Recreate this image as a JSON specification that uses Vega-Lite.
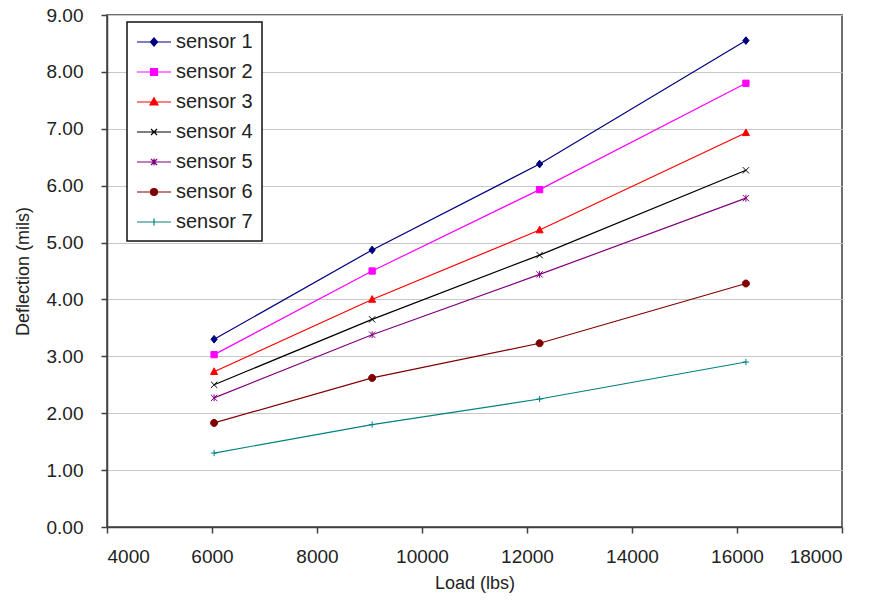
{
  "$schema": "https://vega.github.io/schema/vega-lite/v6.json",
  "autosize": {"type": "none"},
  "width": 735,
  "height": 512,
  "padding": {"left": 107, "top": 15, "right": 31, "bottom": 79},
  "background": "white",
  "config": {
    "font": "Liberation Sans",
    "view": {"stroke": "#404040", "strokeWidth": 1.5},
    "axis": {
      "domainColor": "#404040",
      "domainWidth": 1.5,
      "tickColor": "#404040",
      "tickWidth": 1.5,
      "tickSize": 6,
      "labelFont": "Liberation Sans",
      "labelFontSize": 19,
      "labelColor": "#222222",
      "titleFont": "Liberation Sans",
      "titleFontSize": 18,
      "titleFontWeight": "normal",
      "titleColor": "#222222",
      "gridColor": "#c8c8c8",
      "gridWidth": 1
    },
    "legend": {
      "strokeColor": "#111111",
      "strokeWidth": 1.5,
      "fillColor": "white",
      "padding": 9,
      "labelFont": "Liberation Sans",
      "labelFontSize": 20,
      "labelColor": "#222222"
    },
    "point": {"filled": true, "size": 49, "strokeWidth": 1, "opacity": 1}
  },
  "data": {
    "values": [
      {"sensor": "sensor 1", "load": 6040, "deflection": 3.30},
      {"sensor": "sensor 1", "load": 9050, "deflection": 4.87},
      {"sensor": "sensor 1", "load": 12240, "deflection": 6.38},
      {"sensor": "sensor 1", "load": 16170, "deflection": 8.55},
      {"sensor": "sensor 2", "load": 6040, "deflection": 3.03},
      {"sensor": "sensor 2", "load": 9050, "deflection": 4.50},
      {"sensor": "sensor 2", "load": 12240, "deflection": 5.93},
      {"sensor": "sensor 2", "load": 16170, "deflection": 7.80},
      {"sensor": "sensor 3", "load": 6040, "deflection": 2.73},
      {"sensor": "sensor 3", "load": 9050, "deflection": 4.00},
      {"sensor": "sensor 3", "load": 12240, "deflection": 5.22},
      {"sensor": "sensor 3", "load": 16170, "deflection": 6.93},
      {"sensor": "sensor 4", "load": 6040, "deflection": 2.50},
      {"sensor": "sensor 4", "load": 9050, "deflection": 3.65},
      {"sensor": "sensor 4", "load": 12240, "deflection": 4.78},
      {"sensor": "sensor 4", "load": 16170, "deflection": 6.27},
      {"sensor": "sensor 5", "load": 6040, "deflection": 2.27},
      {"sensor": "sensor 5", "load": 9050, "deflection": 3.38},
      {"sensor": "sensor 5", "load": 12240, "deflection": 4.44},
      {"sensor": "sensor 5", "load": 16170, "deflection": 5.78},
      {"sensor": "sensor 6", "load": 6040, "deflection": 1.83},
      {"sensor": "sensor 6", "load": 9050, "deflection": 2.62},
      {"sensor": "sensor 6", "load": 12240, "deflection": 3.23},
      {"sensor": "sensor 6", "load": 16170, "deflection": 4.28},
      {"sensor": "sensor 7", "load": 6040, "deflection": 1.30},
      {"sensor": "sensor 7", "load": 9050, "deflection": 1.80},
      {"sensor": "sensor 7", "load": 12240, "deflection": 2.25},
      {"sensor": "sensor 7", "load": 16170, "deflection": 2.90}
    ]
  },
  "encoding": {
    "x": {
      "field": "load", "type": "quantitative", "title": "Load (lbs)",
      "scale": {"domain": [4000, 18000], "nice": false, "zero": false},
      "axis": {"values": [4000, 6000, 8000, 10000, 12000, 14000, 16000, 18000], "format": "d", "grid": false, "labelPadding": 14, "titlePadding": 8}
    },
    "y": {
      "field": "deflection", "type": "quantitative", "title": "Deflection (mils)",
      "scale": {"domain": [0, 9], "nice": false},
      "axis": {"values": [0, 1, 2, 3, 4, 5, 6, 7, 8, 9], "format": ".2f", "grid": true, "labelPadding": 18, "titlePadding": 14}
    },
    "color": {
      "field": "sensor", "type": "nominal",
      "scale": {
        "domain": ["sensor 1", "sensor 2", "sensor 3", "sensor 4", "sensor 5", "sensor 6", "sensor 7"],
        "range": ["#000080", "#ff00ff", "#ff0000", "#000000", "#800080", "#800000", "#008080"]
      },
      "legend": {
        "title": null,
        "orient": "none",
        "legendX": 20,
        "legendY": 7,
        "symbolSize": 400,
        "symbolOffset": 7,
        "labelOffset": 11,
        "rowPadding": 9,
        "encode": {
          "symbols": {
            "update": {
              "shape": {"signal": "{'sensor 1': 'M-1.7,0H1.7M0,-0.42L0.36,0L0,0.42L-0.36,0Z', 'sensor 2': 'M-1.7,0H1.7M-0.35,-0.35H0.35V0.35H-0.35Z', 'sensor 3': 'M-1.7,0H1.7M0,-0.42L0.4,0.3L-0.4,0.3Z', 'sensor 4': 'M-1.7,0H1.7M-0.3,-0.3L0.3,0.3M-0.3,0.3L0.3,-0.3', 'sensor 5': 'M-1.7,0H1.7M-0.3,-0.3L0.3,0.3M-0.3,0.3L0.3,-0.3M0,-0.35V0.35', 'sensor 6': 'M-1.7,0H1.7M0.35,0A0.35,0.35,0,1,1,-0.35,0A0.35,0.35,0,1,1,0.35,0Z', 'sensor 7': 'M-1.7,0H1.7M0,-0.35V0.35'}[datum.value]"},
              "fill": {"signal": "{'sensor 1': '#000080', 'sensor 2': '#ff00ff', 'sensor 3': '#ff0000', 'sensor 4': '#000000', 'sensor 5': '#800080', 'sensor 6': '#800000', 'sensor 7': '#008080'}[datum.value]"},
              "stroke": {"signal": "{'sensor 1': '#000080', 'sensor 2': '#ff00ff', 'sensor 3': '#ff0000', 'sensor 4': '#000000', 'sensor 5': '#800080', 'sensor 6': '#800000', 'sensor 7': '#008080'}[datum.value]"},
              "strokeWidth": {"value": 1.2},
              "opacity": {"value": 1},
              "fillOpacity": {"value": 1},
              "strokeOpacity": {"value": 1}
            }
          }
        }
      }
    }
  },
  "layer": [
    {"mark": {"type": "line", "strokeWidth": 1.2}, "encoding": {}},
    {"transform": [{"filter": "datum.sensor === 'sensor 1'"}], "mark": {"type": "point", "shape": "M0,-1.1L0.9,0L0,1.1L-0.9,0Z"}, "encoding": {"stroke": {"field": "sensor", "type": "nominal", "scale": {"domain": ["sensor 1", "sensor 2", "sensor 3", "sensor 4", "sensor 5", "sensor 6", "sensor 7"], "range": ["#000080", "#ff00ff", "#ff0000", "#000000", "#800080", "#800000", "#008080"]}, "legend": null}}},
    {"transform": [{"filter": "datum.sensor === 'sensor 2'"}], "mark": {"type": "point", "shape": "M-0.9,-0.9H0.9V0.9H-0.9Z"}, "encoding": {"stroke": {"field": "sensor", "type": "nominal", "legend": null}}},
    {"transform": [{"filter": "datum.sensor === 'sensor 3'"}], "mark": {"type": "point", "shape": "M0,-1.1L1,0.8L-1,0.8Z"}, "encoding": {"stroke": {"field": "sensor", "type": "nominal", "legend": null}}},
    {"transform": [{"filter": "datum.sensor === 'sensor 4'"}], "mark": {"type": "point", "shape": "M-0.9,-0.9L0.9,0.9M-0.9,0.9L0.9,-0.9"}, "encoding": {"stroke": {"field": "sensor", "type": "nominal", "legend": null}}},
    {"transform": [{"filter": "datum.sensor === 'sensor 5'"}], "mark": {"type": "point", "shape": "M-0.9,-0.9L0.9,0.9M-0.9,0.9L0.9,-0.9M0,-1V1"}, "encoding": {"stroke": {"field": "sensor", "type": "nominal", "legend": null}}},
    {"transform": [{"filter": "datum.sensor === 'sensor 6'"}], "mark": {"type": "point", "shape": "M1,0A1,1,0,1,1,-1,0A1,1,0,1,1,1,0Z"}, "encoding": {"stroke": {"field": "sensor", "type": "nominal", "legend": null}}},
    {"transform": [{"filter": "datum.sensor === 'sensor 7'"}], "mark": {"type": "point", "shape": "M-0.9,0H0.9M0,-0.9V0.9"}, "encoding": {"stroke": {"field": "sensor", "type": "nominal", "legend": null}}}
  ]
}
